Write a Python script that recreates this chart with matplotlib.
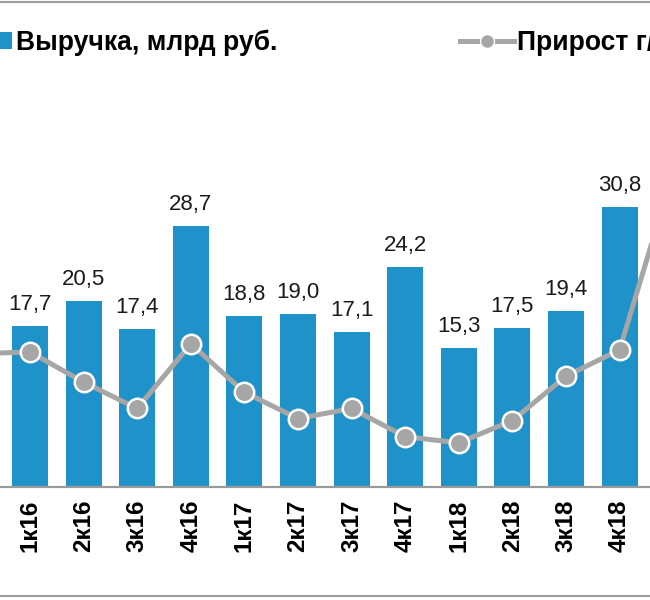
import matplotlib
matplotlib.use("Agg")
import matplotlib.pyplot as plt
from matplotlib.lines import Line2D
from matplotlib.patches import Patch

plt.rcParams['font.family'] = ['Liberation Sans', 'DejaVu Sans']

# Данные
kvartaly = ["1к16", "2к16", "3к16", "4к16", "1к17", "2к17", "3к17", "4к17",
            "1к18", "2к18", "3к18", "4к18"]
vyruchka = [17.7, 20.5, 17.4, 28.7, 18.8, 19.0, 17.1, 24.2, 15.3, 17.5, 19.4, 30.8]
# прирост г/г, % (с 4к15 по 1к19, края обрезаны)
prirost_x = list(range(-1, 13))
prirost = [25, 26, 11, -2, 30, 6, -7, -2, -16, -19, -8, 14, 27, 115]

blue = "#1F93C9"
gray = "#A6A6A6"

fig = plt.figure(figsize=(6.5, 6), dpi=100)
ax_h = 468 / 600
ax = fig.add_axes([0, 113.3 / 600, 1, ax_h])
ax2 = ax.twinx()

x = list(range(len(kvartaly)))
ax.bar(x, vyruchka, width=0.67, color=blue, zorder=2)
for xi, v in zip(x, vyruchka):
    ax.annotate(f"{v:.1f}".replace(".", ","), (xi, v), xytext=(0, 16),
                textcoords="offset pixels", ha="center", va="baseline",
                fontsize=16, color="#1a1a1a")

ax2.plot(prirost_x, prirost, color=gray, lw=3.6, marker="o", ms=14,
         mfc=gray, mec="white", mew=1.8, zorder=3)

ax.set_xlim(-30 / 53.6, 620 / 53.6)
ax2.set_xlim(-30 / 53.6, 620 / 53.6)
ax.set_ylim(0, 468 / 9.07)
ax2.set_ylim(-82.3 / 2.02, -82.3 / 2.02 + 468 / 2.02)

ax.set_xticks(x)
ax.set_xticklabels(kvartaly, rotation=90, fontsize=17.5, fontweight="bold")
ax.tick_params(axis="x", length=0, pad=9)
ax.set_yticks([])
ax2.set_yticks([])
for a in (ax, ax2):
    for s in ("top", "left", "right", "bottom"):
        a.spines[s].set_visible(False)
ax.spines["bottom"].set_visible(True)
ax.spines["bottom"].set_color("#9A9A9A")
ax.spines["bottom"].set_linewidth(1.6)

handles = [Patch(facecolor=blue),
           Line2D([], [], color=gray, lw=3.6, marker="o", ms=10, mfc=gray, mec="white", mew=1)]
fig.legend(handles, ["Выручка, млрд руб.", "Прирост г/г, %"], ncol=2,
           loc="center left", bbox_to_anchor=(-41 / 650, 1 - 43 / 600),
           frameon=False, borderpad=0, borderaxespad=0, handlelength=2.0,
           handleheight=0.62, handletextpad=0.15, columnspacing=6.9,
           prop={"size": 19.1, "weight": "bold"})

# рамка исходной картинки
fig.add_artist(Line2D([0, 1], [1 - 2 / 600, 1 - 2 / 600], color="#A0A0A0", lw=1.5))
fig.add_artist(Line2D([0, 1], [1 - 595.5 / 600, 1 - 595.5 / 600], color="#A0A0A0", lw=1.5))

fig.savefig("out.png", dpi=100)
